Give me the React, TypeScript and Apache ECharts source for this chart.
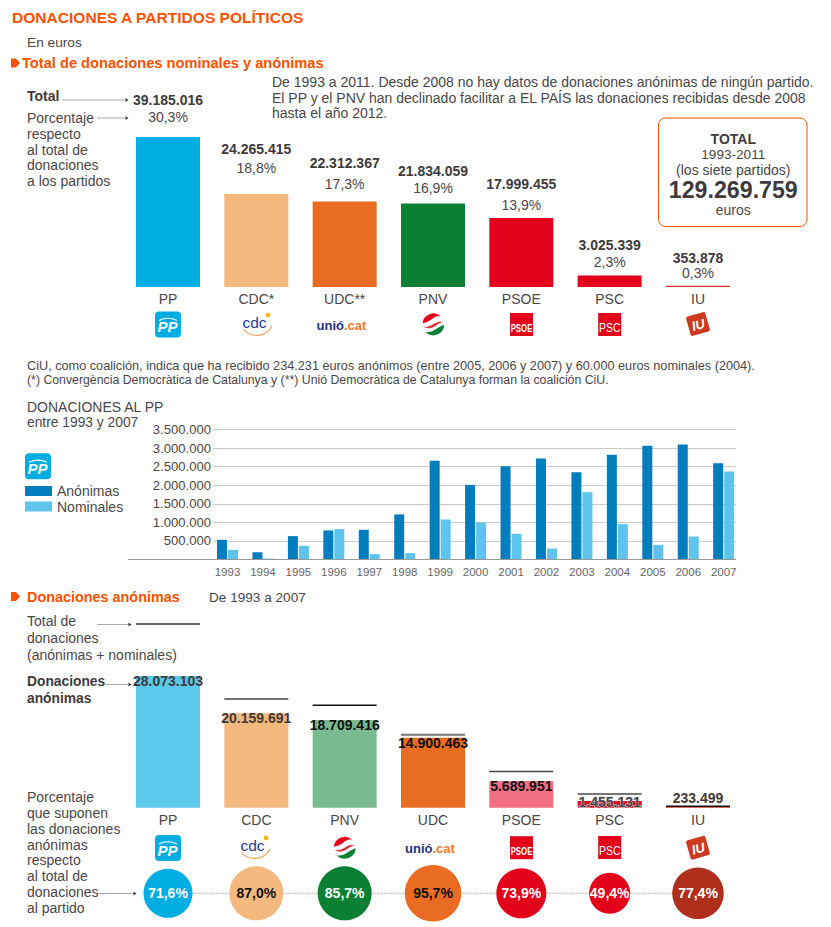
import React, { useEffect, useRef } from "react";
import * as echarts from "echarts";

const FONT = '"Liberation Sans", Arial, sans-serif';
const ORANGE = "#FF5200";
const TEXT = "#4A4648";
const DARK = "#3F3A3C";

// ---- chart 1: total donations
const totalParties = ["PP", "CDC*", "UDC**", "PNV", "PSOE", "PSC", "IU"];
const totalValues = [39185016, 24265415, 22312367, 21834059, 17999455, 3025339, 353878];
const totalValueLabels = ["39.185.016", "24.265.415", "22.312.367", "21.834.059", "17.999.455", "3.025.339", "353.878"];
const totalPercentLabels = ["30,3%", "18,8%", "17,3%", "16,9%", "13,9%", "2,3%", "0,3%"];
const totalColors = ["#00ADE3", "#F4B97F", "#EA6B22", "#0B8033", "#E2001A", "#E2001A", "#CE3A1F"];
const totalValueGaps = [30, 38, 31.5, 25.5, 27, 23.5, 20.5];
const totalPercentGaps = [13.5, 19.5, 11, 8.5, 6, 6.5, 5.5];

// ---- chart 2: donations to PP by year
const years = ["1993", "1994", "1995", "1996", "1997", "1998", "1999", "2000", "2001", "2002", "2003", "2004", "2005", "2006", "2007"];
const ppAnonymous = [530000, 198000, 629000, 782000, 800000, 1213000, 2656000, 2010000, 2513000, 2719000, 2351000, 2818000, 3060000, 3096000, 2594000];
const ppNominal = [260000, 27000, 368000, 818000, 144000, 171000, 1077000, 996000, 691000, 296000, 1813000, 951000, 395000, 619000, 2369000];

// ---- chart 3: anonymous donations
const anonParties = ["PP", "CDC", "PNV", "UDC", "PSOE", "PSC", "IU"];
const anonValues = [28073103, 20159691, 18709416, 14900463, 5689951, 1455131, 233499];
const anonValueLabels = ["28.073.103", "20.159.691", "18.709.416", "14.900.463", "5.689.951", "1.455.131", "233.499"];
const anonTotals = [39185016, 23172000, 21834059, 15570000, 7699000, 2945600, 301678];
const anonPercents = [71.6, 87.0, 85.7, 95.7, 73.9, 49.4, 77.4];
const anonColors = ["#5BC8EC", "#F4B97F", "#7ABA90", "#EA6B22", "#F36F82", "#E2001A", "#CE3A1F"];
const anonLabelColors = ["#3F3A3C", "#3F3A3C", "#111111", "#111111", "#111111", "#4A4648", "#3F3A3C"];
const anonLabelGaps = [-12, -11.7, -12.3, -12.5, -11.7, -7.8, 1.5];
const totalLineColors = ["#333333", "#444444", "#111111", "#777777", "#444444", "#777777", "#111111"];
const totalLineWidths = [1.5, 1.5, 1.5, 2, 1.5, 2, 1.5];
const circleColors = ["#00ADE3", "#F4B97F", "#0B8033", "#EA6B22", "#E2001A", "#E2001A", "#AE2F1B"];
const circleLabelColors = ["#FFFFFF", "#111111", "#FFFFFF", "#111111", "#FFFFFF", "#FFFFFF", "#FFFFFF"];
const circleSizes = [49, 54, 54, 56.5, 50, 41, 51.5];

// ---- texts
const mainTitle = "DONACIONES A PARTIDOS POLÍTICOS";
const unitText = "En euros";
const section1 = "Total de donaciones nominales y anónimas";
const introLines = [
  "De 1993 a 2011. Desde 2008 no hay datos de donaciones anónimas de ningún partido.",
  "El PP y el PNV han declinado facilitar a EL PAÍS las donaciones recibidas desde 2008",
  "hasta el año 2012.",
];
const noteLines = [
  "CiU, como coalición, indica que ha recibido 234.231 euros anónimos (entre 2005, 2006 y 2007) y 60.000 euros nominales (2004).",
  "(*) Convergència Democràtica de Catalunya y (**) Unió Democràtica de Catalunya forman la coalición CiU.",
];
const noteSizes = [12.7, 12.3];
const percentHelp = ["Porcentaje", "respecto", "al total de", "donaciones", "a los partidos"];
const totalHelp = ["Total de", "donaciones", "(anónimas + nominales)"];
const anonHelp = ["Donaciones", "anónimas"];
const shareHelp = ["Porcentaje", "que suponen", "las donaciones", "anónimas", "respecto", "al total de", "donaciones", "al partido"];
const boxLines = ["TOTAL", "1993-2011", "(los siete partidos)", "129.269.759", "euros"];

echarts.graphic.registerShape(
  "pnvRed",
  echarts.graphic.extendPath("M1.2 11 A11 11 0 0 1 19.5 4 C14.5 2.8 12 6 9 8 C6.8 9.5 4 10.6 1.2 11Z", {})
);
echarts.graphic.registerShape(
  "pnvRedBand",
  echarts.graphic.extendPath("M2 14.5 C7 15 10.5 13 13.5 11 C16.5 9 19.5 9 22 10 C19.5 10.2 17 11.5 14.5 13.4 C11 16 7 17 2 14.5Z", {})
);
echarts.graphic.registerShape(
  "pnvGreen",
  echarts.graphic.extendPath("M23 12.5 A11 11 0 0 1 4 19.5 C8 20.5 11.5 19 14.5 17 C17.5 15 20.5 13 23 12.5Z", {})
);

const text = (value: string, x: number, y: number, size = 14, opts: any = {}) => ({
  type: "text",
  silent: true,
  z: 20,
  style: {
    text: value,
    x,
    y,
    fontFamily: opts.family || FONT,
    fontSize: size,
    fontWeight: opts.weight || "normal",
    fontStyle: opts.fontStyle || "normal",
    fill: opts.fill || TEXT,
    align: opts.align || "left",
    verticalAlign: "middle",
    textAlign: opts.align || "left",
    textVerticalAlign: "middle",
  },
});

const line = (x1: number, y1: number, x2: number, y2: number, stroke = "#AAAAAA", lineWidth = 1) => ({
  type: "line",
  silent: true,
  z: 15,
  shape: { x1, y1, x2, y2 },
  style: { stroke, lineWidth },
});

const arrow = (x1: number, x2: number, y: number) => [
  line(x1, y, x2, y),
  {
    type: "polygon",
    silent: true,
    z: 16,
    shape: { points: [[x2 - 2, y - 2], [x2 + 1.5, y], [x2 - 2, y + 2], [x2 - 1, y]] },
    style: { fill: "#222222" },
  },
];

const bullet = (y: number) => ({
  type: "polygon",
  silent: true,
  z: 16,
  shape: { points: [[11, y - 4.5], [16, y - 4.5], [20, y], [16, y + 4.5], [11, y + 4.5]] },
  style: { fill: ORANGE },
});

const logoPP = (x: number, y: number) => ({
  type: "group",
  x,
  y,
  z: 20,
  children: [
    { type: "rect", shape: { x: -13, y: -13, width: 26, height: 26, r: 4 }, style: { fill: "#00ADE3" } },
    { type: "bezierCurve", shape: { x1: -9, y1: -4, x2: 9, y2: -4, cpx1: -3, cpy1: -7, cpx2: 3, cpy2: -7 }, style: { stroke: "#FFFFFF", lineWidth: 1.2, fill: "none" } },
    text("PP", -0.5, 2, 15, { weight: "bold", fontStyle: "italic", fill: "#FFFFFF", align: "center" }),
  ],
});

const logoCDC = (x: number, y: number) => ({
  type: "group",
  x,
  y,
  z: 20,
  children: [
    text("cdc", 0, -3, 15.5, { fill: "#1F3A8C", align: "center" }),
    { type: "circle", shape: { cx: 13.5, cy: -10, r: 2.3 }, style: { fill: "#F6B800" } },
    { type: "bezierCurve", shape: { x1: -11, y1: 4, x2: 17, y2: 1, cpx1: -6, cpy1: 12, cpx2: 12, cpy2: 14 }, style: { stroke: "#F2A560", lineWidth: 1.2, fill: "none" } },
  ],
});

const logoUnio = (x: number, y: number) => ({
  type: "group",
  x,
  y,
  z: 20,
  children: [
    text("unió", -0.5, 0, 13, { weight: "bold", fill: "#1F2F86", align: "right" }),
    text(".cat", -0.5, 0, 13, { weight: "bold", fill: "#F07A2A", align: "left" }),
  ],
});

const logoPNV = (x: number, y: number) => ({
  type: "group",
  x: x - 12,
  y: y - 12,
  z: 20,
  children: [
    { type: "pnvRed", style: { fill: "#E2001A" } },
    { type: "pnvRedBand", style: { fill: "#D9323F" } },
    { type: "pnvGreen", style: { fill: "#0B8033" } },
  ],
});

const logoSquare = (label: string, size: number, stretch: number, weight: string) => (x: number, y: number) => ({
  type: "group",
  x,
  y,
  z: 20,
  children: [
    { type: "rect", shape: { x: -11.5, y: -11.5, width: 23, height: 23 }, style: { fill: "#E2001A" } },
    {
      type: "group",
      x: 0,
      y: 3,
      scaleY: stretch,
      children: [text(label, 0, 0, size, { weight, fill: "#FFFFFF", align: "center" })],
    },
  ],
});

const logoIU = (x: number, y: number) => ({
  type: "group",
  x,
  y,
  rotation: 0.28,
  z: 20,
  children: [
    { type: "rect", shape: { x: -10, y: -10, width: 20, height: 20, r: 2 }, style: { fill: "#CE3A1F" } },
    text("IU", 0, 1, 13, { weight: "bold", fontStyle: "italic", fill: "#FFFFFF", align: "center" }),
  ],
});

const logoPSOE = logoSquare("PSOE", 7.8, 1.5, "bold");
const logoPSC = logoSquare("PSC", 10.5, 1.3, "normal");

const buildGraphic = () => [
  text(mainTitle, 12, 17.5, 15.55, { weight: "bold", fill: ORANGE }),
  text(unitText, 27, 42.5, 13.7),
  bullet(63),
  text(section1, 22, 62.5, 14.65, { weight: "bold", fill: ORANGE }),
  ...introLines.map((t, i) => text(t, 272, 82 + i * 15.6, 14)),
  text("Total", 27, 95.5, 14, { weight: "bold", fill: DARK }),
  ...arrow(62, 127, 100),
  ...arrow(97, 127, 118),
  ...percentHelp.map((t, i) => text(t, 27, 118 + i * 15.8, 14)),
  {
    type: "rect",
    silent: true,
    z: 14,
    shape: { x: 658.5, y: 118, width: 148.5, height: 108.5, r: 7 },
    style: { fill: "#FFFFFF", stroke: ORANGE, lineWidth: 1 },
  },
  text(boxLines[0], 733.3, 138.5, 14, { weight: "bold", fill: DARK, align: "center" }),
  text(boxLines[1], 733.3, 154.7, 13.6, { align: "center" }),
  text(boxLines[2], 733.3, 169.8, 14, { align: "center" }),
  text(boxLines[3], 733.3, 190, 23.2, { weight: "bold", fill: DARK, align: "center" }),
  text(boxLines[4], 733.3, 209.7, 14, { align: "center" }),
  logoPP(168, 324.5),
  logoCDC(254.5, 325),
  logoUnio(344.5, 325),
  logoPNV(433.3, 324.3),
  logoPSOE(521.5, 324.5),
  logoPSC(609.7, 324.5),
  logoIU(698, 324),
  ...noteLines.map((t, i) => text(t, 27, 366.3 + i * 14, noteSizes[i])),
  text("DONACIONES AL PP", 27, 406.7, 14),
  text("entre 1993 y 2007", 27, 422.3, 13.8),
  logoPP(38, 466.3),
  line(128, 559.5, 736, 559.5, "#999999", 1),
  bullet(596.5),
  text("Donaciones anónimas", 27, 597.3, 14.4, { weight: "bold", fill: ORANGE }),
  text("De 1993 a 2007", 209, 597.7, 13.6),
  ...totalHelp.map((t, i) => text(t, 27, 621 + i * 16.8, 14)),
  ...arrow(97, 130, 624.5),
  ...anonHelp.map((t, i) => text(t, 27, 681 + i * 17, 13.8, { weight: "bold", fill: DARK })),
  ...arrow(105, 130, 684.5),
  ...shareHelp.map((t, i) => text(t, 27, 797.3 + i * 15.75, 14)),
  ...arrow(97, 135, 893.5),
  logoPP(168, 848),
  logoCDC(252.5, 848),
  logoPNV(344.7, 847.7),
  logoUnio(433, 848.3),
  logoPSOE(521.5, 847.7),
  logoPSC(609.7, 847.5),
  logoIU(698, 847.7),
];

const FULL_SCALE = 39185016;
const LEFT = 123.83;
const WIDTH = 618.33;

const partyAxis = (grid: number, data: string[], show = true) => ({
  type: "category",
  gridIndex: grid,
  data,
  show,
  axisLine: { show: false },
  axisTick: { show: false },
  axisLabel: { fontFamily: FONT, fontSize: 14, color: TEXT, margin: 5, interval: 0 },
});

const hiddenValue = (grid: number, max: number) => ({
  type: "value",
  gridIndex: grid,
  show: false,
  min: 0,
  max,
  splitLine: { show: false },
});

const buildOption = () => ({
  animation: false,
  backgroundColor: "#FFFFFF",
  textStyle: { fontFamily: FONT },
  graphic: buildGraphic(),
  legend: {
    data: ["Anónimas", "Nominales"],
    orient: "vertical",
    left: 25,
    top: 484,
    itemWidth: 27,
    itemHeight: 10,
    itemGap: 1.5,
    icon: "rect",
    selectedMode: false,
    textStyle: { fontFamily: FONT, fontSize: 14, color: TEXT, padding: [0, 0, 0, 0] },
    padding: 0,
  },
  grid: [
    { left: LEFT, width: WIDTH, top: 137, height: 150 },
    { left: 213, width: 523, top: 429.5, height: 130 },
    { left: 209.8, width: 531.6, top: 429.5, height: 130 },
    { left: LEFT, width: WIDTH, top: 624, height: 183.7 },
    { left: LEFT, width: WIDTH, top: 870, height: 46.6 },
  ],
  xAxis: [
    partyAxis(0, totalParties),
    { type: "category", gridIndex: 1, show: false, data: years },
    {
      type: "category",
      gridIndex: 2,
      data: years,
      axisLine: { show: false },
      axisTick: { show: false },
      axisLabel: { fontFamily: FONT, fontSize: 11.5, color: "#666666", margin: 6, interval: 0 },
    },
    partyAxis(3, anonParties),
    partyAxis(4, anonParties, false),
  ],
  yAxis: [
    hiddenValue(0, FULL_SCALE),
    {
      type: "value",
      gridIndex: 1,
      min: 0,
      max: 3500000,
      interval: 500000,
      axisLine: { show: false },
      axisTick: { show: false },
      splitLine: { show: true, lineStyle: { color: "#CCCCCC", width: 1 } },
      axisLabel: {
        fontFamily: FONT,
        fontSize: 13.1,
        color: TEXT,
        margin: 2,
        formatter: (v: number) => (v === 0 ? "" : String(v).replace(/\B(?=(\d{3})+$)/g, ".")),
      },
    },
    hiddenValue(2, 3500000),
    hiddenValue(3, FULL_SCALE),
    { type: "category", gridIndex: 4, show: false, data: ["%"] },
  ],
  series: [
    {
      type: "bar",
      xAxisIndex: 0,
      yAxisIndex: 0,
      barWidth: 64,
      barGap: "-100%",
      data: totalValues.map((value, i) => ({
        value,
        itemStyle: { color: totalColors[i] },
        label: { distance: totalValueGaps[i] },
      })),
      label: {
        show: true,
        position: "top",
        fontFamily: FONT,
        fontSize: 14,
        lineHeight: 14,
        fontWeight: "bold",
        color: DARK,
        formatter: (p: any) => totalValueLabels[p.dataIndex],
      },
    },
    {
      type: "bar",
      xAxisIndex: 0,
      yAxisIndex: 0,
      barWidth: 64,
      barGap: "-100%",
      itemStyle: { color: "transparent" },
      data: totalValues.map((value, i) => ({
        value,
        label: { distance: totalPercentGaps[i] },
      })),
      label: {
        show: true,
        position: "top",
        fontFamily: FONT,
        fontSize: 14,
        lineHeight: 14,
        color: TEXT,
        formatter: (p: any) => totalPercentLabels[p.dataIndex],
      },
    },
    {
      name: "Anónimas",
      type: "bar",
      xAxisIndex: 2,
      yAxisIndex: 2,
      barWidth: 10,
      barGap: "10%",
      itemStyle: { color: "#007DBD" },
      data: ppAnonymous,
    },
    {
      name: "Nominales",
      type: "bar",
      xAxisIndex: 2,
      yAxisIndex: 2,
      barWidth: 10,
      barGap: "10%",
      itemStyle: { color: "#5FC4EC" },
      data: ppNominal,
    },
    {
      type: "bar",
      xAxisIndex: 3,
      yAxisIndex: 3,
      barWidth: 64,
      z: 2,
      data: anonValues.map((value, i) => ({
        value,
        itemStyle: { color: anonColors[i] },
        label: {
          distance: anonLabelGaps[i],
          color: anonLabelColors[i],
          textBorderColor: i === 5 ? "#DDDDDD" : "transparent",
          textBorderWidth: i === 5 ? 1 : 0,
        },
      })),
      label: {
        show: true,
        position: "top",
        fontFamily: FONT,
        fontSize: 14,
        lineHeight: 14,
        fontWeight: "bold",
        formatter: (p: any) => anonValueLabels[p.dataIndex],
      },
    },
    {
      type: "scatter",
      xAxisIndex: 3,
      yAxisIndex: 3,
      z: 3,
      symbol: "rect",
      data: anonTotals.map((value, i) => ({
        value: [anonParties[i], value],
        symbolSize: [64, totalLineWidths[i]],
        itemStyle: { color: totalLineColors[i], opacity: 1 },
      })),
    },
    {
      type: "line",
      xAxisIndex: 4,
      yAxisIndex: 4,
      z: 2,
      symbol: "none",
      lineStyle: { color: "#BBBBBB", width: 1, type: [2, 1] },
      data: anonParties.map((c) => [c, "%"]),
    },
    {
      type: "scatter",
      xAxisIndex: 4,
      yAxisIndex: 4,
      z: 3,
      symbol: "circle",
      data: anonParties.map((c, i) => ({
        value: [c, "%", anonPercents[i]],
        symbolSize: circleSizes[i],
        itemStyle: { color: circleColors[i], opacity: 1 },
        label: { color: circleLabelColors[i] },
      })),
      label: {
        show: true,
        position: "inside",
        fontFamily: FONT,
        fontSize: 14,
        fontWeight: "bold",
        formatter: (p: any) => p.value[2].toFixed(1).replace(".", ",") + "%",
      },
    },
  ],
});

export default function App() {
  const ref = useRef<HTMLDivElement>(null);
  useEffect(() => {
    const chart = echarts.init(ref.current!, undefined, { renderer: "svg" });
    chart.setOption(buildOption() as any);
    return () => chart.dispose();
  }, []);
  return <div ref={ref} style={{ position: "absolute", left: 0, top: 0, width: 831, height: 927 }} />;
}
